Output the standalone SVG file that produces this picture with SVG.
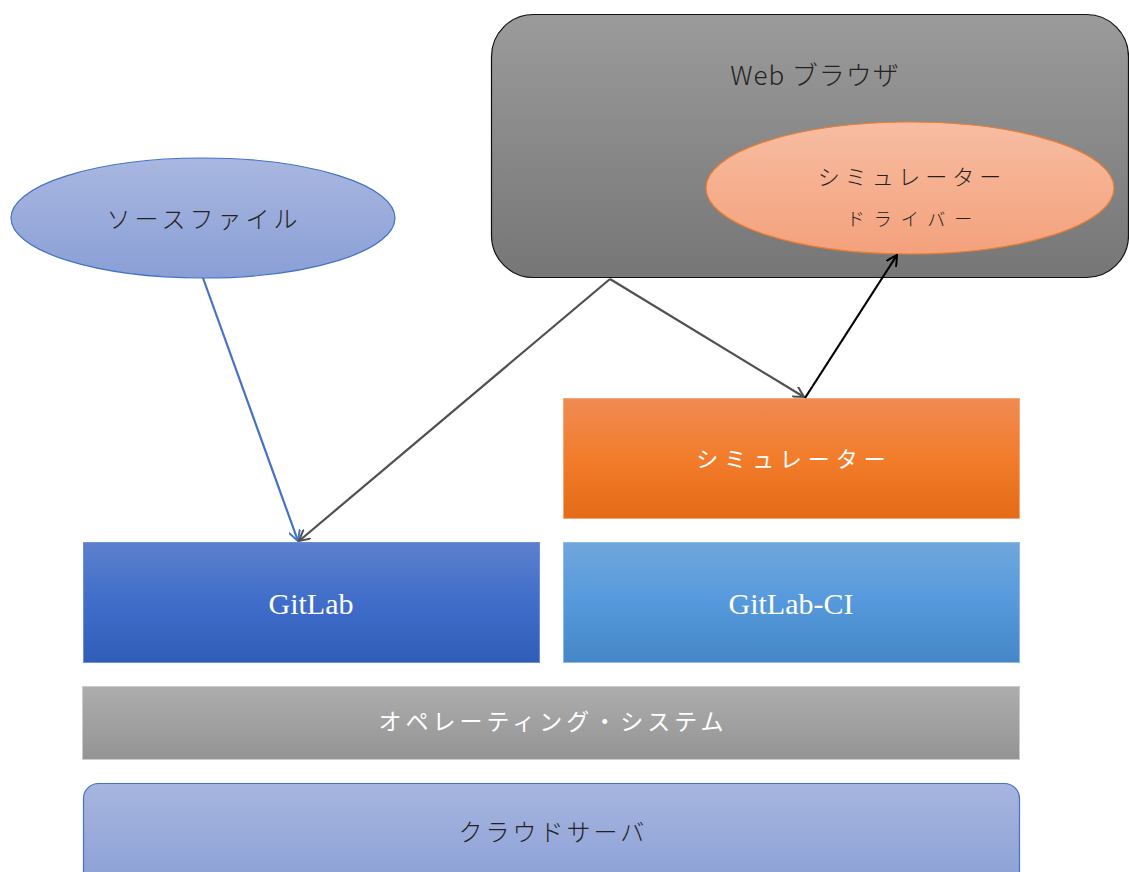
<svg xmlns="http://www.w3.org/2000/svg" width="1129" height="872" viewBox="0 0 1129 872">
<style>
.jp{font-family:"Noto Sans CJK JP","Noto Sans",sans-serif;font-weight:300;text-anchor:middle;dominant-baseline:central}
.wt{font-family:"Liberation Serif","Noto Sans CJK JP",serif;fill:#fff;text-anchor:middle;dominant-baseline:central}
.con{fill:none;stroke-width:2.2}
</style>
<defs>
<linearGradient id="gBrowser" x1="0" y1="0" x2="0" y2="1"><stop offset="0" stop-color="#9b9b9b"/><stop offset="1" stop-color="#767676"/></linearGradient>
<linearGradient id="gDriver" x1="0" y1="0" x2="0" y2="1"><stop offset="0" stop-color="#f7bda2"/><stop offset="1" stop-color="#f4a17c"/></linearGradient>
<linearGradient id="gSrc" x1="0" y1="0" x2="0" y2="1"><stop offset="0" stop-color="#a9b7e0"/><stop offset="1" stop-color="#8a9fd6"/></linearGradient>
<linearGradient id="gSim" x1="0" y1="0" x2="0" y2="1"><stop offset="0" stop-color="#f08b54"/><stop offset="0.5" stop-color="#f27c2a"/><stop offset="1" stop-color="#e46b17"/></linearGradient>
<linearGradient id="gGit" x1="0" y1="0" x2="0" y2="1"><stop offset="0" stop-color="#5d80cd"/><stop offset="0.5" stop-color="#3f6dc9"/><stop offset="1" stop-color="#2f5db8"/></linearGradient>
<linearGradient id="gCI" x1="0" y1="0" x2="0" y2="1"><stop offset="0" stop-color="#70a7dc"/><stop offset="0.5" stop-color="#5599dc"/><stop offset="1" stop-color="#4587c6"/></linearGradient>
<linearGradient id="gOS" x1="0" y1="0" x2="0" y2="1"><stop offset="0" stop-color="#adadad"/><stop offset="1" stop-color="#949494"/></linearGradient>
<linearGradient id="gCloud" x1="0" y1="0" x2="0" y2="1"><stop offset="0" stop-color="#a7b5df"/><stop offset="1" stop-color="#8a9fd6"/></linearGradient>
<marker id="aBlue" viewBox="0 0 12 12" refX="11" refY="6" markerWidth="12" markerHeight="12" markerUnits="userSpaceOnUse" orient="auto"><polyline points="0,0 11,6 0,12" fill="none" stroke="#4472c4" stroke-width="2"/></marker>
<marker id="aGray" viewBox="0 0 12 12" refX="11" refY="6" markerWidth="12" markerHeight="12" markerUnits="userSpaceOnUse" orient="auto"><polyline points="0,0 11,6 0,12" fill="none" stroke="#505050" stroke-width="2"/></marker>
<marker id="aBlack" viewBox="0 0 12 12" refX="11" refY="6" markerWidth="12" markerHeight="12" markerUnits="userSpaceOnUse" orient="auto"><polyline points="0,0 11,6 0,12" fill="none" stroke="#000" stroke-width="2"/></marker>
</defs>

<g id="browser">
<rect x="491.5" y="14.5" width="637" height="263" rx="42" fill="url(#gBrowser)" stroke="#111" stroke-width="1.2"/>
<text class="jp" x="815" y="73" font-size="26" fill="#222" letter-spacing="1">Web ブラウザ</text>
</g>
<g id="driver">
<ellipse cx="910" cy="188" rx="204" ry="66" fill="url(#gDriver)" stroke="#ed7d31" stroke-width="1.2"/>
<text class="jp" x="912" y="175" font-size="22" fill="#222" letter-spacing="5">シミュレーター</text>
<text class="jp" x="914" y="218" font-size="18" fill="#222" letter-spacing="9">ドライバー</text>
</g>
<g id="source">
<ellipse cx="203" cy="218" rx="192" ry="60" fill="url(#gSrc)" stroke="#4472c4" stroke-width="1.2"/>
<text class="jp" x="204" y="217" font-size="24" fill="#222" letter-spacing="4">ソースファイル</text>
</g>
<g id="simulator">
<rect x="563.5" y="398.5" width="456" height="120" fill="url(#gSim)" stroke="#f4a87a" stroke-width="1"/>
<text class="wt" x="794" y="459" font-size="22" letter-spacing="6">シミュレーター</text>
</g>
<g id="gitlab">
<rect x="83.5" y="542.5" width="456" height="120" fill="url(#gGit)" stroke="#6d8fd6" stroke-width="1"/>
<text class="wt" x="311" y="603" font-size="30">GitLab</text>
</g>
<g id="gitlabci">
<rect x="563.5" y="542.5" width="456" height="120" fill="url(#gCI)" stroke="#8cbbe6" stroke-width="1"/>
<text class="wt" x="791" y="603" font-size="30">GitLab-CI</text>
</g>
<g id="os">
<rect x="82.5" y="686.5" width="937" height="73" fill="url(#gOS)" stroke="#cccccc" stroke-width="1"/>
<text class="wt" x="553" y="722" font-size="23" letter-spacing="4">オペレーティング・システム</text>
</g>
<g id="cloud">
<rect x="83.5" y="783.5" width="936" height="110" rx="15" fill="url(#gCloud)" stroke="#4472c4" stroke-width="1.2"/>
<text class="jp" x="553" y="830" font-size="24" fill="#222" letter-spacing="3">クラウドサーバ</text>
</g>

<g id="connectors">
<line class="con" x1="203" y1="278" x2="298" y2="541" stroke="#4472c4" marker-end="url(#aBlue)"/>
<line class="con" x1="610" y1="279" x2="299" y2="541" stroke="#505050" marker-end="url(#aGray)"/>
<line class="con" x1="610" y1="279" x2="804" y2="397" stroke="#505050" marker-end="url(#aGray)"/>
<line class="con" x1="805" y1="398" x2="897" y2="255" stroke="#000" marker-end="url(#aBlack)"/>
</g>
</svg>
